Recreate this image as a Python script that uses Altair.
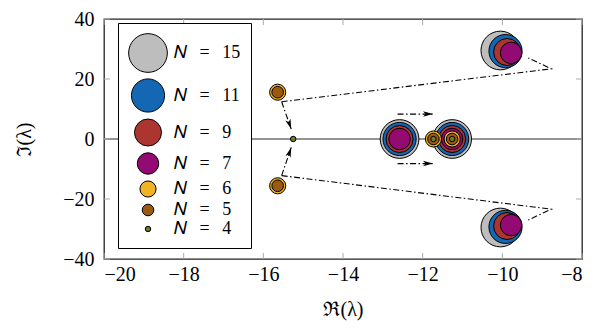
import math
import altair as alt
import pandas as pd

# ---- data -------------------------------------------------------------
N_values = [15, 11, 9, 7, 6, 5, 4]
N_colors = ["#bdbdbd", "#1467b2", "#ad3530", "#920a72", "#efb324", "#9a5a10", "#6e7b20"]
N_areas = [1500, 1100, 730, 460, 260, 135, 30]

eig_re = {
    15: [-12.58, -11.26, -10.05, -10.05],
    11: [-12.58, -11.26, -9.92, -9.92],
    9: [-12.58, -11.26, -9.88, -9.88],
    7: [-12.58, -11.26, -9.78, -9.78],
    6: [-15.64, -15.64, -11.73, -11.26],
    5: [-15.64, -15.64, -11.73, -11.26],
    4: [-15.25, -11.73, -11.26],
}
eig_im = {
    15: [0, 0, 29.5, -29.5],
    11: [0, 0, 29.3, -29.3],
    9: [0, 0, 29.0, -29.0],
    7: [0, 0, 28.7, -28.7],
    6: [15.6, -15.6, 0, 0],
    5: [15.6, -15.6, 0, 0],
    4: [0, 0, 0],
}

# dash-dot paths (segment id, x, y); last point of an arrow gets a head
path_ids = [1, 1, 2, 2, 3, 3, 3, 4, 4, 4, 5, 5, 6, 6]
path_x = [-15.54, -15.30, -15.54, -15.30, -15.54, -8.77, -9.35, -15.54, -8.77, -9.35,
          -12.63, -11.74, -12.63, -11.74]
path_y = [12.4, 3.3, -12.2, -2.8, 12.4, 23.4, 27.0, -12.2, -23.4, -27.0,
          8.3, 8.3, -8.2, -8.2]
arrow_heads = [1, 2, 5, 6]

x_ticks = [-20, -18, -16, -14, -12, -10, -8]
y_ticks = [-40, -20, 0, 20, 40]

# ---- layout -----------------------------------------------------------
W, H = 478, 240
PAD = {"left": 96, "top": 11, "right": 8, "bottom": 62}
XD, YD = [-20, -8], [-40, 40]
FONT = "Liberation Serif"

rows = []
for n in N_values:
    for re, im in zip(eig_re[n], eig_im[n]):
        rows.append({"N": n, "re": re, "im": im})
df = pd.DataFrame(rows)

pdf = pd.DataFrame({"seg": path_ids, "x": path_x, "y": path_y})
pdf["i"] = range(len(pdf))

heads = []
for s in arrow_heads:
    sub = pdf[pdf.seg == s]
    (x1, y1), (x2, y2) = sub[["x", "y"]].values[-2], sub[["x", "y"]].values[-1]
    dx = (x2 - x1) * W / (XD[1] - XD[0])
    dy = -(y2 - y1) * H / (YD[1] - YD[0])
    ang = math.degrees(math.atan2(dy, dx)) % 360
    heads.append({"x": x2, "y": y2, "angle": ang})
hdf = pd.DataFrame(heads)

xs = alt.Scale(domain=XD, nice=False, zero=False)
ys = alt.Scale(domain=YD, nice=False, zero=False)

x_axis = alt.Axis(values=x_ticks, grid=False, ticks=False, domain=False,
                  labelFont=FONT, labelFontSize=20, labelColor="black",
                  labelPadding=5, titleFont=FONT, titleFontSize=20,
                  titleFontWeight="normal", titleColor="black", titlePadding=15)
y_axis = alt.Axis(values=y_ticks, grid=False, ticks=False, domain=False,
                  labelFont=FONT, labelFontSize=20, labelColor="black",
                  labelPadding=10, titleFont=FONT, titleFontSize=20,
                  titleFontWeight="normal", titleColor="black", titlePadding=28)
XT, YT = "ℜ(λ)", "ℑ(λ)"


def X(f):
    return alt.X(f, scale=xs, axis=x_axis, title=XT)


def Y(f):
    return alt.Y(f, scale=ys, axis=y_axis, title=YT)


zero = alt.Chart(pd.DataFrame({"y": [0]})).mark_rule(color="#707070", strokeWidth=1.3).encode(
    y=Y("y:Q"))

points = alt.Chart(df).mark_point(filled=True, opacity=1, stroke="black", strokeWidth=1,
                                  shape="circle").encode(
    x=X("re:Q"), y=Y("im:Q"),
    color=alt.Color("N:O", scale=alt.Scale(domain=N_values, range=N_colors),
                    legend=alt.Legend(title=None, orient="none", legendX=14, legendY=4,
                                      padding=10, rowPadding=1, labelOffset=6,
                                      fillColor="white", strokeColor="black",
                                      labelFont=FONT, labelFontSize=18, labelColor="black",
                                      labelExpr="'𝑁\u2002\u2009=\u2002\u2009' + datum.label",
                                      symbolStrokeColor="black", symbolStrokeWidth=1,
                                      symbolType="circle")),
    size=alt.Size("N:O", scale=alt.Scale(type="ordinal", domain=N_values, range=N_areas)),
    order=alt.Order("N:Q", sort="descending"),
)

xt = pd.DataFrame({"t": x_ticks})
yt = pd.DataFrame({"t": y_ticks})
tick_style = dict(color="#aaaaaa", strokeWidth=1)
tb = alt.Chart(xt).mark_rule(**tick_style).encode(x=X("t:Q"), y=alt.value(H), y2=alt.value(H - 6))
tt = alt.Chart(xt).mark_rule(**tick_style).encode(x=X("t:Q"), y=alt.value(0), y2=alt.value(6))
tl = alt.Chart(yt).mark_rule(**tick_style).encode(y=Y("t:Q"), x=alt.value(0), x2=alt.value(6))
tr = alt.Chart(yt).mark_rule(**tick_style).encode(y=Y("t:Q"), x=alt.value(W - 6), x2=alt.value(W))

lines = alt.Chart(pdf).mark_line(color="black", strokeWidth=1.1,
                                 strokeDash=[6, 2.5, 1.5, 2.5]).encode(
    x=X("x:Q"), y=Y("y:Q"), detail="seg:N", order="i:Q")

arrow_path = "M0,0 L-2,-0.55 L-1.5,0 L-2,0.55 Z"
heads_layer = alt.Chart(hdf).mark_point(shape=arrow_path, filled=True, color="black",
                                        opacity=1, size=100).encode(
    x=X("x:Q"), y=Y("y:Q"), angle=alt.Angle("angle:Q", scale=None))

chart = alt.layer(zero, points, tb, tt, tl, tr, lines, heads_layer).properties(
    width=W, height=H, padding=PAD,
    autosize=alt.AutoSizeParams(type="none"),
).configure_view(stroke="#222222", strokeWidth=1.3)

chart.save("out.html", embed_options={"renderer": "svg", "actions": False})
